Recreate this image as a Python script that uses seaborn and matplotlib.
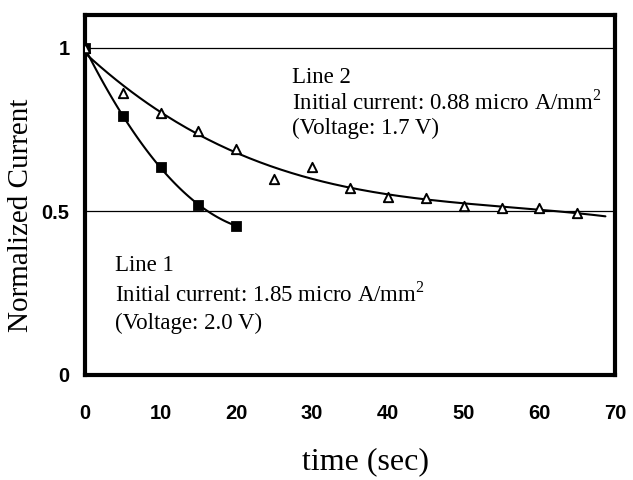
import numpy as np
import pandas as pd
import matplotlib.pyplot as plt
import seaborn as sns

sns.set_theme(style="white")
plt.rcParams["font.family"] = ["Liberation Serif", "DejaVu Serif"]
plt.rcParams["mathtext.fontset"] = "custom"
plt.rcParams["mathtext.rm"] = "Liberation Serif"
plt.rcParams["text.color"] = "black"
plt.rcParams["axes.labelcolor"] = "black"

# Line 1 (filled squares)
t1 = [0, 5, 10, 15, 20]
i1 = [1.0, 0.79, 0.635, 0.52, 0.455]

# Line 2 (open triangles)
t2 = [0, 5, 10, 15, 20, 25, 30, 35, 40, 45, 50, 55, 60, 65]
i2 = [1.0, 0.86, 0.80, 0.745, 0.69, 0.60, 0.635, 0.57, 0.545, 0.54, 0.515, 0.51, 0.51, 0.495]

x_ticks = [0, 10, 20, 30, 40, 50, 60, 70]
y_ticks = [0, 0.5, 1]
y_tick_labels = ["0", "0.5", "1"]

fig = plt.figure(figsize=(6.33, 4.8), dpi=100)
ax = fig.add_axes([0.134, 0.219, 0.838, 0.75])

# reference lines
ax.axhline(1.0, color="black", lw=0.9, zorder=1)
ax.axhline(0.5, color="black", lw=0.9, zorder=1)

# fitted trend curves (polynomial fit of the measured points)
c1 = np.polyfit(t1, i1, 2)
f1 = pd.DataFrame({"t": np.linspace(0, 20, 100)})
f1["i"] = np.polyval(c1, f1["t"])
c2 = np.polyfit(t2, i2, 3)
f2 = pd.DataFrame({"t": np.linspace(0, 68.7, 200)})
f2["i"] = np.polyval(c2, f2["t"])
sns.lineplot(data=f1, x="t", y="i", ax=ax, color="black", lw=1.5, zorder=2)
sns.lineplot(data=f2, x="t", y="i", ax=ax, color="black", lw=1.5, zorder=2)

sns.scatterplot(x=t1, y=i1, ax=ax, marker="s", s=50, color="black",
                edgecolor="black", zorder=3)
sns.scatterplot(x=t2, y=i2, ax=ax, marker="^", s=45, facecolor="white",
                edgecolor="black", linewidth=1.4, zorder=3)

ax.set_xlim(0, 70)
ax.set_ylim(0, 1.1)
ax.set_xticks(x_ticks)
ax.set_yticks(y_ticks)
ax.set_yticklabels(y_tick_labels)
for lab in ax.get_xticklabels() + ax.get_yticklabels():
    lab.set_family(["Liberation Sans", "DejaVu Sans"])
    lab.set_fontweight("bold")
    lab.set_fontsize(14.5)
    lab.set_color("black")
ax.tick_params(axis="x", direction="in", length=5, width=1, pad=21, colors="black")
ax.tick_params(axis="y", direction="in", length=0, pad=11, colors="black")
for sp in ax.spines.values():
    sp.set_color("black")
    sp.set_linewidth(3)

ax.set_xlabel("time (sec)", fontsize=23)
ax.set_ylabel("Normalized Current", fontsize=21)
ax.xaxis.set_label_coords(0.53, -0.2)
ax.yaxis.set_label_coords(-0.095, 0.444)

txt = dict(fontsize=16.5, color="black", va="center", ha="left")
ax.text(27.3, 0.908, "Line 2", **txt)
ax.text(27.3, 0.832, r"Initial current: 0.88 micro A/mm$^{\mathrm{2}}$", **txt)
ax.text(27.3, 0.752, "(Voltage: 1.7 V)", **txt)
ax.text(4.0, 0.333, "Line 1", **txt)
ax.text(4.0, 0.245, r"Initial current: 1.85 micro A/mm$^{\mathrm{2}}$", **txt)
ax.text(4.0, 0.156, "(Voltage: 2.0 V)", **txt)

fig.savefig("out.png", dpi=100)
